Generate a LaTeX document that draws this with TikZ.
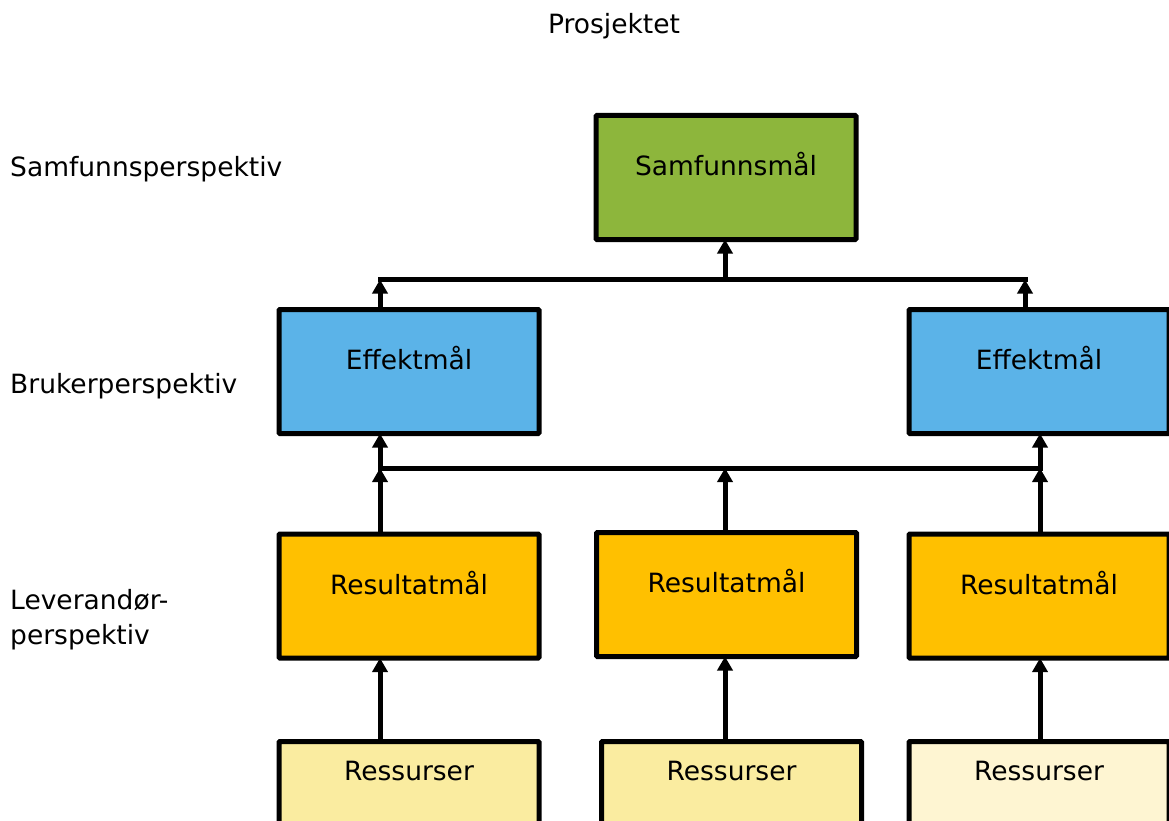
\documentclass[tikz,border=0pt]{standalone}
\usepackage{fontspec}
\setmainfont{DejaVu Sans}
\usetikzlibrary{arrows.meta}
\definecolor{samgreen}{RGB}{141,182,60}
\definecolor{effblue}{RGB}{91,179,232}
\definecolor{resorange}{RGB}{255,192,0}
\definecolor{ressyellow}{RGB}{250,236,160}
\definecolor{ressyellowlight}{RGB}{254,245,210}
\begin{document}
\begin{tikzpicture}[x=1pt,y=-1pt,
  txt/.style={font=\fontsize{26.5}{35}\selectfont, inner sep=0pt},
  goalbox/.style={draw=black, line width=5pt, rounded corners=1pt, txt,
    minimum width=260pt, text height=60pt, text depth=64pt, outer sep=0pt},
  resbox/.style={goalbox, text height=39pt, text depth=85pt},
  link/.style={draw=black, line width=5pt, -{Triangle[length=14pt,width=15pt]}},
  bus/.style={draw=black, line width=5pt, line cap=rect}]
\useasboundingbox (0,0) rectangle (1169,821);

% headings
\node[txt, anchor=base] (title) at (614,34) {Prosjektet};
\node[txt, anchor=base west] (lsam) at (10,177) {Samfunnsperspektiv};
\node[txt, anchor=base west] (lbru) at (10,393) {Brukerperspektiv};
\node[txt, anchor=base west, align=left] (llev) at (10,644) {Leverandør-\\perspektiv};

% goal boxes
\node[goalbox, fill=samgreen, anchor=north] (sam) at (726,115.5) {Samfunnsmål};
\node[goalbox, fill=effblue, anchor=north] (effL) at (409,309.5) {Effektmål};
\node[goalbox, fill=effblue, anchor=north] (effR) at (1039,309.5) {Effektmål};
\node[goalbox, fill=resorange, anchor=north] (resL) at (409,534) {Resultatmål};
\node[goalbox, fill=resorange, anchor=north] (resM) at (726.5,532.5) {Resultatmål};
\node[goalbox, fill=resorange, anchor=north] (resR) at (1039,534) {Resultatmål};
\node[resbox, fill=ressyellow, anchor=north] (rsL) at (409,741.5) {Ressurser};
\node[resbox, fill=ressyellow, anchor=north] (rsM) at (731.5,741.5) {Ressurser};
\node[resbox, fill=ressyellowlight, anchor=north] (rsR) at (1039,741.5) {Ressurser};

% upper bus
\coordinate (tl) at (380,279.5);
\coordinate (tm) at (725,279.5);
\coordinate (tr) at (1025,279.5);
\draw[bus] (tl) -- (tr);
\draw[link] (tm) -- (tm |- sam.south);
\draw[link] (tl |- effL.north) -- (tl);
\draw[link] (tr |- effR.north) -- (tr);

% lower bus
\coordinate (bl) at (380,468);
\coordinate (bm) at (725,468);
\coordinate (br) at (1040,468);
\draw[bus] (bl) -- (br);
\draw[link] (bl) -- (bl |- effL.south);
\draw[link] (br) -- (br |- effR.south);
\draw[link] (bl |- resL.north) -- (bl);
\draw[link] (bm |- resM.north) -- (bm);
\draw[link] (br |- resR.north) -- (br);

% resources to results
\draw[link] (bl |- rsL.north) -- (bl |- resL.south);
\draw[link] (bm |- rsM.north) -- (bm |- resM.south);
\draw[link] (br |- rsR.north) -- (br |- resR.south);
\end{tikzpicture}
\end{document}
